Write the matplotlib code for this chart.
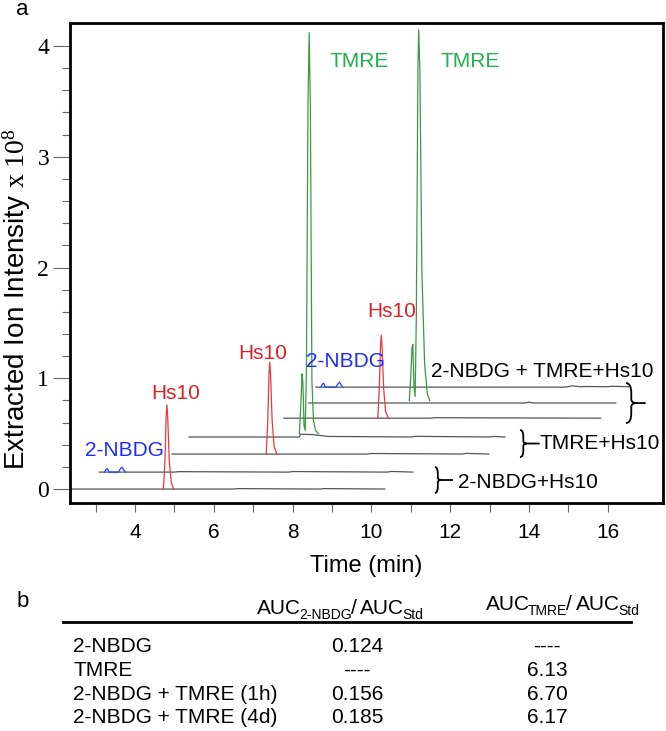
import numpy as np
import matplotlib
matplotlib.use("Agg")
import matplotlib.pyplot as plt
from matplotlib.path import Path
from matplotlib.patches import PathPatch

plt.rcParams['font.family'] = ['Liberation Sans', 'DejaVu Sans']
plt.rcParams['mathtext.fontset'] = 'custom'
plt.rcParams['mathtext.rm'] = 'Liberation Serif'
plt.rcParams['mathtext.it'] = 'Liberation Serif:italic'

W, H = 666, 731

# --- chromatogram traces (time in min, intensity x 1e8) ---
trace_offset = [0.0, 0.153, 0.316, 0.47, 0.64, 0.777, 0.92]
# baselines: x points and height above the trace offset
base_x = [
    [2.35, 6.5, 6.6, 8.7, 8.8, 10.34],
    [3.09, 5.0, 5.1, 7.9, 8.0, 10.4, 10.5, 11.05],
    [4.94, 9.9, 10.0, 12.3, 12.4, 12.98],
    [5.37, 8.17, 8.2, 8.5, 8.9, 11.0, 11.1, 13.0, 13.1, 13.39],
    [7.78, 11.5, 11.6, 15.82],
    [8.41, 13.9, 14.0, 14.1, 16.20],
    [8.59, 14.9, 15.0, 15.1, 15.3, 15.5, 16.0, 16.1, 16.53],
]
base_y = [
    [0, 0, 0.004, 0, 0.004, 0],
    [0, 0, 0.004, 0, 0.005, 0, 0.006, 0],
    [0, 0, 0.005, 0, 0.006, 0],
    [0, 0, 0.025, 0.022, 0.005, 0, 0.006, 0, 0.005, 0],
    [0, 0, 0.004, 0],
    [0, 0, 0.008, 0, 0],
    [0, 0, 0.005, 0.012, 0.004, 0.006, 0.004, 0.008, 0.004],
]

# peaks: trace index, colour key, x points, height above offset
peak_trace = [0, 2, 4, 3, 5, 1, 6]
peak_kind = ['Hs10', 'Hs10', 'Hs10', 'TMRE', 'TMRE', '2-NBDG', '2-NBDG']
peak_x = [
    [4.72, 4.76, 4.79, 4.81, 4.83, 4.87, 4.92, 4.98],
    [7.33, 7.37, 7.40, 7.42, 7.44, 7.48, 7.53, 7.60],
    [10.16, 10.20, 10.23, 10.25, 10.27, 10.31, 10.36, 10.43],
    [8.17, 8.21, 8.24, 8.26, 8.29, 8.32, 8.35, 8.39, 8.42, 8.45, 8.49, 8.53, 8.58, 8.65],
    [10.96, 11.0, 11.03, 11.05, 11.08, 11.11, 11.14, 11.18, 11.2, 11.23, 11.28, 11.35, 11.42, 11.48],
    [3.22, 3.27, 3.30, 3.34, 3.58, 3.63, 3.67, 3.71, 3.76],
    [8.72, 8.76, 8.79, 8.83, 9.10, 9.15, 9.19, 9.23, 9.27],
]
peak_y = [
    [0, 0.25, 0.65, 0.76, 0.65, 0.25, 0.06, 0],
    [0, 0.30, 0.72, 0.83, 0.72, 0.30, 0.07, 0],
    [0, 0.27, 0.65, 0.75, 0.65, 0.27, 0.06, 0],
    [0.03, 0.30, 0.57, 0.50, 0.10, 0.06, 0.60, 3.0, 3.65, 3.0, 0.50, 0.15, 0.06, 0.03],
    [0.02, 0.25, 0.50, 0.53, 0.15, 0.06, 0.80, 3.0, 3.37, 3.0, 1.2, 0.35, 0.08, 0.02],
    [0, 0.025, 0.03, 0, 0, 0.03, 0.045, 0.02, 0],
    [0, 0.03, 0.035, 0, 0, 0.03, 0.045, 0.02, 0],
]
line_color = {'Hs10': '#e8383d', 'TMRE': '#3a9a3f', '2-NBDG': '#1f3fff'}
text_color = {'Hs10': '#de1f26', 'TMRE': '#1fb14b', '2-NBDG': '#1d2bff'}

# peak name labels (x, y in data units)
lab_text = ['TMRE', 'TMRE', 'Hs10', 'Hs10', 'Hs10', '2-NBDG', '2-NBDG']
lab_x = [9.70, 12.50, 5.04, 7.25, 10.52, 3.72, 9.35]
lab_y = [3.86, 3.86, 0.867, 1.228, 1.60, 0.352, 1.156]

# sample group labels + braces
group_text = ['2-NBDG+Hs10', 'TMRE+Hs10', '2-NBDG + TMRE+Hs10']
group_x = [12.19, 14.27, 11.51]
group_y = [0.063, 0.415, 1.065]
brace_x = [(11.61, 11.76, 12.07), (13.77, 13.94, 14.27), (16.46, 16.73, 16.96)]
brace_y = [(-0.036, 0.199), (0.289, 0.533), (0.596, 0.957)]

# --- table b ---
row_names = ['2-NBDG', 'TMRE', '2-NBDG + TMRE (1h)', '2-NBDG + TMRE (4d)']
auc_nbdg = ['0.124', '----', '0.156', '0.185']
auc_tmre = ['----', '6.13', '6.70', '6.17']

fig = plt.figure(figsize=(W / 100, H / 100), dpi=100)
ax = fig.add_axes([70 / W, 1 - 503 / H, 593 / W, 480 / H])

gray = '#555555'
for i in range(len(trace_offset)):
    ax.plot(base_x[i], np.array(base_y[i]) + trace_offset[i], color=gray, lw=0.9)
for i in range(len(peak_x)):
    ax.plot(peak_x[i], np.array(peak_y[i]) + trace_offset[peak_trace[i]],
            color=line_color[peak_kind[i]], lw=0.9)

for s, x, y in zip(lab_text, lab_x, lab_y):
    ax.text(x, y, s, color=text_color[s], fontsize=15, ha='center', va='center')

for s, x, y in zip(group_text, group_x, group_y):
    ax.text(x, y, s, color='black', fontsize=15, ha='left', va='center')


def brace(x0, xt, xe, yb, yt):
    xm = (x0 + xt) / 2
    ym = (yb + yt) / 2
    h = yt - yb
    verts = [(x0, yt), (xm, yt), (xm, yt - 0.25 * h), (xm, ym + 0.1 * h),
             (xm, ym), (xt, ym), (xm, ym), (xm, ym - 0.1 * h),
             (xm, yb + 0.25 * h), (xm, yb), (x0, yb),
             (xt, ym), (xe, ym)]
    codes = [Path.MOVETO, Path.CURVE3, Path.CURVE3, Path.LINETO,
             Path.CURVE3, Path.CURVE3, Path.CURVE3, Path.CURVE3,
             Path.LINETO, Path.CURVE3, Path.CURVE3,
             Path.MOVETO, Path.LINETO]
    ax.add_patch(PathPatch(Path(verts, codes), fill=False, lw=1.3, color='black'))


for (x0, xt, xe), (yb, yt) in zip(brace_x, brace_y):
    brace(x0, xt, xe, yb, yt)

ax.set_xlim(2.35, 17.40)
ax.set_ylim(-0.126, 4.208)
ax.set_xticks(np.arange(4, 17, 2))
ax.set_xticks(np.arange(3, 17, 1), minor=True)
ax.set_xticklabels([str(v) for v in range(4, 17, 2)], fontsize=15)
ax.set_yticks(np.arange(0, 5, 1))
ax.set_yticks(np.arange(0, 4.01, 0.2), minor=True)
ax.set_yticklabels([str(v) for v in range(5)], fontsize=17, fontfamily='Liberation Serif')
ax.tick_params(axis='x', which='both', direction='out', length=6.5, width=0.8,
               color='#666666', pad=8)
ax.tick_params(axis='y', which='major', direction='out', length=12, width=0.8,
               color='#666666', pad=3)
ax.tick_params(axis='y', which='minor', direction='out', length=5.5, width=0.8,
               color='#666666')
for sp in ax.spines.values():
    sp.set_linewidth(2.0)

fig.text(17 / W, 1 - 299 / H, r'Extracted Ion Intensity $\mathrm{x\ 10^{8}}$',
         rotation=90, fontsize=20, ha='center', va='center')
fig.text(366 / W, 1 - 572 / H, 'Time (min)', fontsize=17, ha='center', va='baseline')
fig.text(22 / W, 1 - 15 / H, 'a', fontsize=16, ha='center', va='baseline')
fig.text(23 / W, 1 - 607 / H, 'b', fontsize=16, ha='center', va='baseline')

renderer = fig.canvas.get_renderer()


def rich(parts, x, y):
    # parts: (text, size, drop in px, gap before in px)
    for s, size, dy, gap in parts:
        x += gap
        t = fig.text(x / W, 1 - (y + dy) / H, s, fontsize=size, ha='left', va='baseline')
        x += t.get_window_extent(renderer).width


rich([('AUC', 15, 0, 0), ('2-NBDG', 10, 5, -2), ('/', 15, 0, -1),
      ('AUC', 15, 0, 4), ('Std', 10, 5, -2)], 257, 614)
rich([('AUC', 15, 0, 0), ('TMRE', 10, 5, -2), ('/', 15, 0, -1),
      ('AUC', 15, 0, 4), ('Std', 10, 5, -2)], 486, 610)

fig.add_artist(plt.Line2D([63 / W, 631 / W], [1 - 622 / H, 1 - 622 / H],
                          color='black', lw=2.0))

row_base = [652, 676, 700, 723]
for name, a, b, yb in zip(row_names, auc_nbdg, auc_tmre, row_base):
    fig.text(73 / W, 1 - yb / H, name, fontsize=15, ha='left', va='baseline')
    fig.text(357 / W, 1 - yb / H, a, fontsize=15, ha='center', va='baseline')
    fig.text(547 / W, 1 - yb / H, b, fontsize=15, ha='center', va='baseline')

fig.savefig('out.png', dpi=100)
